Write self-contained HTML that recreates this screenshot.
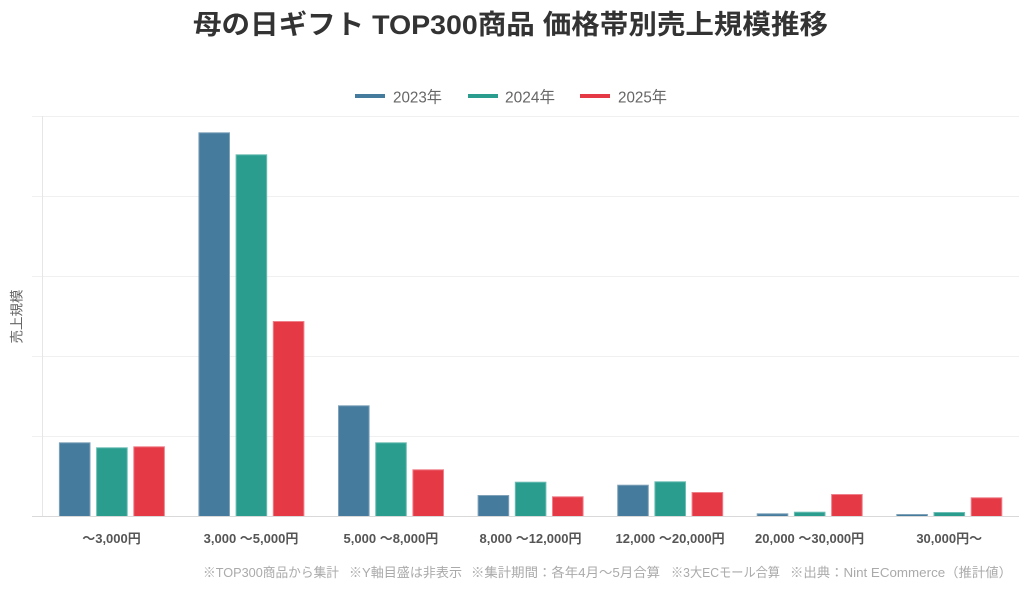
<!DOCTYPE html>
<html>
<head>
<meta charset="utf-8">
<style>
  html, body { margin:0; padding:0; background:#fff; }
  svg { display:block; }
  text { font-family: "Liberation Sans", "Noto Sans CJK JP", sans-serif; }
</style>
</head>
<body>
<svg width="1024" height="592" viewBox="0 0 1024 592" xmlns="http://www.w3.org/2000/svg">
  <rect width="1024" height="592" fill="#fff"/>
  <!-- Title -->
  <text x="193" y="34" font-size="27" font-weight="bold" fill="#333" textLength="635" lengthAdjust="spacingAndGlyphs">母の日ギフト TOP300商品 価格帯別売上規模推移</text>

  <!-- Legend -->
  <rect x="355" y="94" width="30" height="4" fill="#457b9d"/>
  <text x="393" y="102.5" font-size="16" fill="#666" textLength="49" lengthAdjust="spacingAndGlyphs">2023年</text>
  <rect x="468" y="94" width="30" height="4" fill="#2a9d8f"/>
  <text x="505" y="102.5" font-size="16" fill="#666" textLength="50" lengthAdjust="spacingAndGlyphs">2024年</text>
  <rect x="580" y="94" width="30" height="4" fill="#e63946"/>
  <text x="618" y="102.5" font-size="16" fill="#666" textLength="49" lengthAdjust="spacingAndGlyphs">2025年</text>

  <!-- Gridlines -->
  <g stroke="#f0f0f0" stroke-width="1">
    <line x1="32" y1="116.5" x2="1019" y2="116.5"/>
    <line x1="32" y1="196.5" x2="1019" y2="196.5"/>
    <line x1="32" y1="276.5" x2="1019" y2="276.5"/>
    <line x1="32" y1="356.5" x2="1019" y2="356.5"/>
    <line x1="32" y1="436.5" x2="1019" y2="436.5"/>
  </g>
  <line x1="42.5" y1="116" x2="42.5" y2="517" stroke="#e6e6e6" stroke-width="1"/>

  <!-- Y axis title -->
  <text transform="translate(21.5,316.5) rotate(-90)" text-anchor="middle" font-size="13.5" fill="#666">売上規模</text>

  <!-- Bars -->
  <g stroke-width="1">
    <!-- G1 center 111.8 -->
    <rect x="59.4" y="442.8" width="30.6" height="73.7" fill="#457b9d" stroke="#7fa2b9"/>
    <rect x="96.6" y="447.8" width="30.6" height="68.7" fill="#2a9d8f" stroke="#6cbdb3"/>
    <rect x="133.8" y="446.8" width="30.6" height="69.7" fill="#e63946" stroke="#ef7f88"/>
    <!-- G2 center 251.3 -->
    <rect x="198.9" y="132.8" width="30.6" height="383.7" fill="#457b9d" stroke="#7fa2b9"/>
    <rect x="236.1" y="154.8" width="30.6" height="361.7" fill="#2a9d8f" stroke="#6cbdb3"/>
    <rect x="273.3" y="321.5" width="30.6" height="195" fill="#e63946" stroke="#ef7f88"/>
    <!-- G3 center 390.9 -->
    <rect x="338.5" y="405.8" width="30.6" height="110.7" fill="#457b9d" stroke="#7fa2b9"/>
    <rect x="375.7" y="442.8" width="30.6" height="73.7" fill="#2a9d8f" stroke="#6cbdb3"/>
    <rect x="412.9" y="469.8" width="30.6" height="46.7" fill="#e63946" stroke="#ef7f88"/>
    <!-- G4 center 530.5 -->
    <rect x="478.1" y="495.5" width="30.6" height="21" fill="#457b9d" stroke="#7fa2b9"/>
    <rect x="515.3" y="482.2" width="30.6" height="34.3" fill="#2a9d8f" stroke="#6cbdb3"/>
    <rect x="552.5" y="496.8" width="30.6" height="19.7" fill="#e63946" stroke="#ef7f88"/>
    <!-- G5 center 670.1 -->
    <rect x="617.7" y="485.2" width="30.6" height="31.3" fill="#457b9d" stroke="#7fa2b9"/>
    <rect x="654.9" y="481.8" width="30.6" height="34.7" fill="#2a9d8f" stroke="#6cbdb3"/>
    <rect x="692.1" y="492.5" width="30.6" height="24" fill="#e63946" stroke="#ef7f88"/>
    <!-- G6 center 809.6 -->
    <rect x="757.2" y="513.8" width="30.6" height="2.7" fill="#457b9d" stroke="#7fa2b9"/>
    <rect x="794.4" y="512.2" width="30.6" height="4.3" fill="#2a9d8f" stroke="#6cbdb3"/>
    <rect x="831.6" y="494.5" width="30.6" height="22" fill="#e63946" stroke="#ef7f88"/>
    <!-- G7 center 949.2 -->
    <rect x="896.8" y="514.5" width="30.6" height="2" fill="#457b9d" stroke="#7fa2b9"/>
    <rect x="934.0" y="512.5" width="30.6" height="4" fill="#2a9d8f" stroke="#6cbdb3"/>
    <rect x="971.2" y="497.8" width="30.6" height="18.7" fill="#e63946" stroke="#ef7f88"/>
  </g>

  <!-- Baseline -->
  <line x1="32" y1="516.5" x2="1019" y2="516.5" stroke="#d9d9d9" stroke-width="1"/>

  <!-- Category labels -->
  <g font-size="13" font-weight="bold" fill="#555" text-anchor="middle">
    <text x="111.5" y="543">～3,000円</text>
    <text x="251" y="543">3,000 ～5,000円</text>
    <text x="390.9" y="543">5,000 ～8,000円</text>
    <text x="530.5" y="543">8,000 ～12,000円</text>
    <text x="670.1" y="543">12,000 ～20,000円</text>
    <text x="809.6" y="543">20,000 ～30,000円</text>
    <text x="949.2" y="543">30,000円～</text>
  </g>

  <!-- Footnote -->
  <g font-size="13" fill="#aaa">
    <text x="203" y="577" textLength="136" lengthAdjust="spacingAndGlyphs">※TOP300商品から集計</text>
    <text x="349" y="577" textLength="113" lengthAdjust="spacingAndGlyphs">※Y軸目盛は非表示</text>
    <text x="471" y="577" textLength="189" lengthAdjust="spacingAndGlyphs">※集計期間：各年4月～5月合算</text>
    <text x="671" y="577" textLength="109" lengthAdjust="spacingAndGlyphs">※3大ECモール合算</text>
    <text x="790" y="577" textLength="222" lengthAdjust="spacingAndGlyphs">※出典：Nint ECommerce（推計値）</text>
  </g>
</svg>
</body>
</html>
